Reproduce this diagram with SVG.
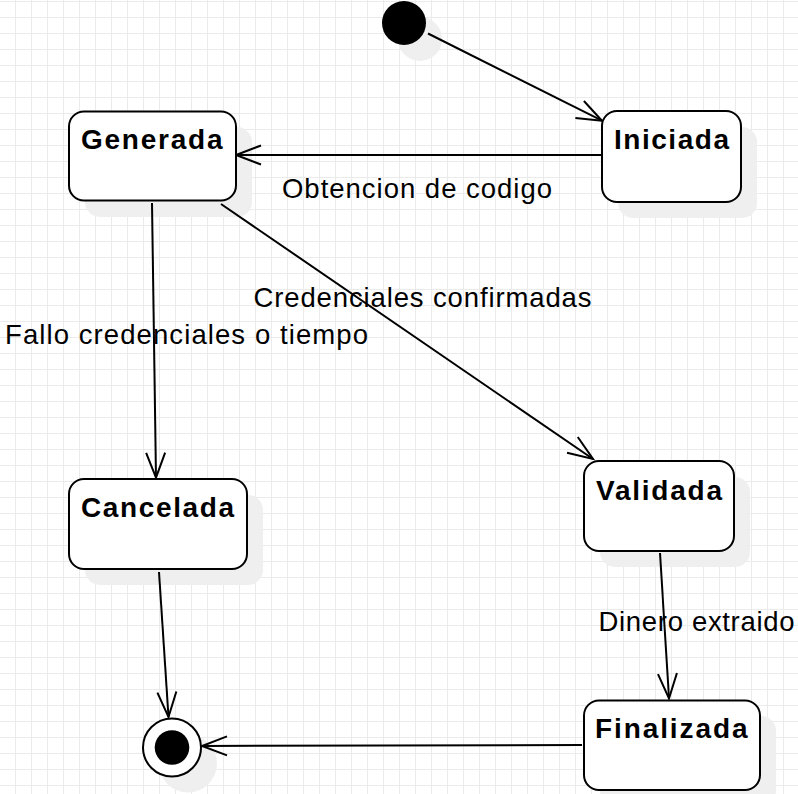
<svg xmlns="http://www.w3.org/2000/svg" width="798" height="794" viewBox="0 0 798 794">
<defs>
<pattern id="grid" x="15" y="1" width="16" height="16" patternUnits="userSpaceOnUse">
<rect x="0" y="0" width="1" height="16" fill="#ebebeb"/>
<rect x="0" y="0" width="16" height="1" fill="#ebebeb"/>
</pattern>
<marker id="open" markerUnits="userSpaceOnUse" viewBox="-28 -14 30 28" markerWidth="30" markerHeight="28" refX="0" refY="0" orient="auto" overflow="visible">
<path d="M-25,-9.5 L0,0 L-25,9.5" fill="none" stroke="#000" stroke-width="2"/>
</marker>
</defs>
<style>
.shadow{fill:#efefef;stroke:none}
.state{fill:#fff;stroke:#000;stroke-width:2}
.title{font-family:"Liberation Sans",Arial,sans-serif;font-weight:bold;font-size:28px;fill:#000}
.label{font-family:"Liberation Sans",Arial,sans-serif;font-size:27.5px;fill:#000}
.edge{fill:none;stroke:#000;stroke-width:2;marker-end:url(#open)}
</style>
<rect width="798" height="794" fill="#fff"/>
<rect width="798" height="794" fill="url(#grid)"/>

<g id="shadows">
<circle class="shadow" cx="420" cy="39" r="22"/>
<rect class="shadow" x="618" y="127" width="139" height="91" rx="15"/>
<rect class="shadow" x="85" y="127" width="167" height="90" rx="15"/>
<rect class="shadow" x="85" y="495" width="178" height="90" rx="15"/>
<rect class="shadow" x="600" y="477" width="150" height="90" rx="15"/>
<rect class="shadow" x="600" y="716" width="176" height="90" rx="15"/>
<circle class="shadow" cx="188" cy="763.5" r="29"/>
</g>

<g id="connectors">
<line class="edge" x1="428" y1="33.5" x2="602" y2="120.7"/>
<line class="edge" x1="602" y1="155" x2="236" y2="155"/>
<line class="edge" x1="152" y1="203" x2="156" y2="477.7"/>
<line class="edge" x1="221" y1="204" x2="593" y2="459"/>
<line class="edge" x1="660" y1="553" x2="669" y2="698.5"/>
<line class="edge" x1="159" y1="572" x2="168.5" y2="717"/>
<line class="edge" x1="582" y1="745" x2="202" y2="746"/>
</g>

<g id="labels">
<text class="label" x="282" y="198" textLength="270" lengthAdjust="spacing">Obtencion de codigo</text>
<text class="label" x="5" y="344" textLength="363" lengthAdjust="spacing">Fallo credenciales o tiempo</text>
<text class="label" x="253.5" y="307" textLength="338" lengthAdjust="spacing">Credenciales confirmadas</text>
<text class="label" x="598.5" y="630.5" textLength="196" lengthAdjust="spacing">Dinero extraido</text>
</g>

<g id="initial">
<circle cx="404" cy="23" r="22" fill="#000"/>
</g>

<g id="iniciada">
<rect class="state" x="602" y="111" width="139" height="91" rx="15"/>
<text class="title" x="614" y="149" textLength="115" lengthAdjust="spacing">Iniciada</text>
</g>

<g id="generada">
<rect class="state" x="69" y="111.5" width="167" height="89" rx="15"/>
<text class="title" x="81" y="149" textLength="141.5" lengthAdjust="spacing">Generada</text>
</g>

<g id="cancelada">
<rect class="state" x="69" y="479" width="178" height="90" rx="15"/>
<text class="title" x="81" y="517" textLength="153" lengthAdjust="spacing">Cancelada</text>
</g>

<g id="validada">
<rect class="state" x="584" y="461" width="150" height="90" rx="15"/>
<text class="title" x="596" y="500" textLength="126" lengthAdjust="spacing">Validada</text>
</g>

<g id="finalizada">
<rect class="state" x="584" y="700.5" width="176" height="89.5" rx="15"/>
<text class="title" x="595" y="737.5" textLength="152.5" lengthAdjust="spacing">Finalizada</text>
</g>

<g id="final">
<circle cx="172" cy="747.5" r="29" fill="#fff" stroke="#000" stroke-width="2"/>
<circle cx="172" cy="747.5" r="17.3" fill="#000"/>
</g>
</svg>
